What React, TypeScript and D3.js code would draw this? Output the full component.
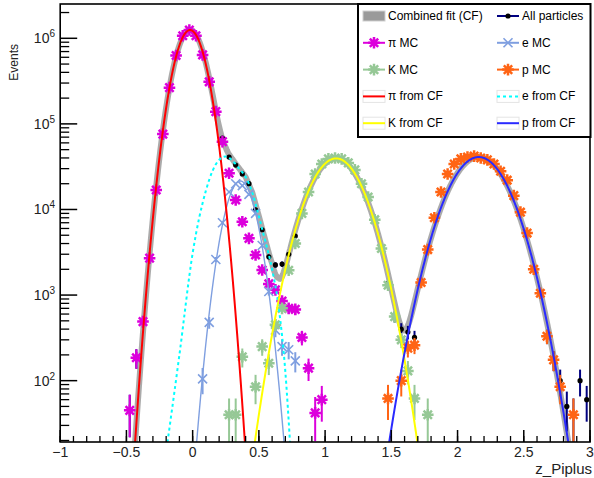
import React from 'react';
import * as d3 from 'd3';

const W = 594, H = 478;

// ---- data ----
const piX = [-0.475,-0.425,-0.375,-0.325,-0.275,-0.225,-0.175,-0.125,-0.075,-0.025,0.025,0.075,0.125,0.175,0.225,0.275,0.325,0.375,0.425,0.475,0.525,0.575,0.625,0.675,0.725,0.775,0.825,0.875,0.925,0.975];
const piY = [45,185,490,2700,16900,76000,265000,630000,1070000,1250000,1070000,640000,310000,139000,62000,26500,12900,7200,4600,2940,1960,1350,1150,850,700,680,320,140,42,60];

const eX = [0.075,0.125,0.175,0.225,0.275,0.325,0.375,0.425,0.475,0.525,0.575,0.625,0.675,0.725,0.775];
const eY = [105,480,2600,7000,16000,20000,19000,15000,9000,3800,1100,390,250,230,170];

const kX = [0.275,0.325,0.375,0.475,0.525,0.575,0.625,0.675,0.725,0.775,0.825,0.875,0.925,0.975,1.025,1.075,1.125,1.175,1.225,1.275,1.325,1.375,1.425,1.475,1.525,1.575,1.625,1.675,1.775];
const kY = [40,40,190,85,250,160,450,700,1950,4000,9000,16000,26000,34000,39000,40000,39000,35000,29000,20000,14000,7600,3500,1300,560,300,130,62,40];

const pX = [1.475,1.575,1.625,1.675,1.725,1.775,1.825,1.875,1.925,1.975,2.025,2.075,2.125,2.175,2.225,2.275,2.325,2.375,2.425,2.475,2.525,2.575,2.625,2.675,2.725,2.775,2.875];
const pY = [62,100,240,260,1400,3400,8000,16000,26000,34000,39000,41000,42000,40000,38000,34000,28000,22000,14500,9300,5300,2000,1050,330,175,85,40];

const allX = [-0.475,-0.425,-0.375,-0.325,-0.275,-0.225,-0.175,-0.125,-0.075,-0.025,0.025,0.075,0.125,0.175,0.225,0.275,0.325,0.375,0.425,0.475,0.525,0.575,0.625,0.675,0.725,0.775,0.825,0.875,0.925,0.975,1.025,1.075,1.125,1.175,1.225,1.275,1.325,1.375,1.425,1.475,1.525,1.575,1.625,1.675,1.725,1.775,1.825,1.875,1.925,1.975,2.025,2.075,2.125,2.175,2.225,2.275,2.325,2.375,2.425,2.475,2.525,2.575,2.625,2.675,2.725,2.775,2.825,2.875,2.925,2.975];
const allY = [45,185,490,2700,16900,76000,265000,630000,1070000,1250000,1070000,640000,310000,142000,68000,41000,33000,26000,20000,9900,5800,2800,2250,2300,3000,4900,9400,16000,26000,34000,39000,40000,39000,35000,29000,20000,14000,7600,3500,1360,560,400,370,320,1460,3440,8000,16000,26000,34000,39000,41000,42000,40000,38000,34000,28000,22000,14500,9300,5300,2000,1050,330,175,100,50,40,100,60];

// fit components pi, K, p: Gaussian parameters
const fitAmp = [1.25e6, 3.95e4, 4.1e4];
const fitMean = [-0.02, 1.083, 2.16];
const fitSigma = [0.088, 0.157, 0.1726];
const fitColor = ['#ff0000', '#ffff00', '#2a2aff'];
// e fit component: curve read point by point
const eFitX = [-0.19,-0.1,0,0.1,0.15,0.2,0.25,0.3,0.35,0.4,0.45,0.5,0.55,0.6,0.65,0.7,0.735];
const eFitY = [19,200,3090,16600,28200,38000,41700,37200,30200,24000,15800,8300,4170,2000,710,126,19];
// e MC line (Gaussian parameters)
const eLine = [2.15e4, 0.36, 0.088];

const xTicks = [-1, -0.5, 0, 0.5, 1, 1.5, 2, 2.5, 3];
const xTickLabels = ['\u22121', '\u22120.5', '0', '0.5', '1', '1.5', '2', '2.5', '3'];
const yExps = [2, 3, 4, 5, 6];

const legendLeft = [
  { label: 'Combined fit (CF)', kind: 'box' },
  { label: '\u03c0 MC', kind: 'star', color: '#dc00dc' },
  { label: 'K MC', kind: 'star', color: '#96c896' },
  { label: '\u03c0 from CF', kind: 'line', color: '#ff0000' },
  { label: 'K from CF', kind: 'line', color: '#ffff00' },
];
const legendRight = [
  { label: 'All particles', kind: 'dot', color: '#000080' },
  { label: 'e MC', kind: 'x', color: '#7f9fe0' },
  { label: 'p MC', kind: 'star', color: '#ff6414' },
  { label: 'e from CF', kind: 'dash', color: '#00ffff' },
  { label: 'p from CF', kind: 'line', color: '#2a2aff' },
];

const FL = 60.2, FR = 590, FT = 4, FB = 442;
const xs = d3.scaleLinear().domain([-1, 3]).range([FL, FR]);
const ys = d3.scaleLog().domain([19.2, 2.516e6]).range([FB, FT]);

const gauss = (x: number, a: number, m: number, s: number) => a * Math.exp(-0.5 * ((x - m) / s) ** 2);
const grid = d3.range(-1, 3.0001, 0.004);
const lineGen = d3.line<[number, number]>()
  .defined(d => d[1] > 1)
  .x(d => xs(d[0]))
  .y(d => ys(d[1]));
const smoothGen = d3.line<[number, number]>()
  .x(d => xs(d[0]))
  .y(d => ys(d[1]))
  .curve(d3.curveMonotoneX);

const eLogInterp = d3.scaleLinear().domain(eFitX).range(eFitY.map(v => Math.log10(v)));
const eFitAt = (x: number) => (x < eFitX[0] || x > eFitX[eFitX.length - 1]) ? 0 : 10 ** eLogInterp(x);

function starPath(r: number) {
  const d = r * 0.72;
  return `M${-r},0L${r},0M0,${-r}L0,${r}M${-d},${-d}L${d},${d}M${-d},${d}L${d},${-d}`;
}
function xPath(r: number) {
  return `M${-r},${-r}L${r},${r}M${-r},${r}L${r},${-r}`;
}

const ERRK = 12;
const STAR_R = 5.8;

function Points({ X, Y, color, kind }: { X: number[]; Y: number[]; color: string; kind: string }) {
  return (
    <g>
      {X.map((x, i) => {
        const y = Y[i];
        const e = Math.sqrt(ERRK * y);
        const lo = Math.max(y - e, 1);
        const cx = xs(x), cy = ys(y);
        return (
          <g key={i}>
            <line x1={cx} x2={cx} y1={ys(lo)} y2={ys(y + e)} stroke={kind === 'dot' ? '#000080' : color} strokeWidth={2} />
            {kind === 'star' && (
              <g transform={`translate(${cx},${cy})`}>
                <path d={starPath(STAR_R)} stroke={color} strokeWidth={2.5} fill="none" />
                <circle r={2.6} fill={color} />
              </g>
            )}
            {kind === 'x' && (
              <path transform={`translate(${cx},${cy})`} d={xPath(4.5)} stroke={color} strokeWidth={1.6} fill="none" />
            )}
            {kind === 'dot' && <circle cx={cx} cy={cy} r={2.6} fill="#000" />}
          </g>
        );
      })}
    </g>
  );
}

export default function App() {
  const comps = fitAmp.map((a, i) => grid.map(x => [x, gauss(x, a, fitMean[i], fitSigma[i])] as [number, number]));
  const combined = grid.map((x, j) => [x, comps.reduce((s, c) => s + c[j][1], 0) + eFitAt(x)] as [number, number]);
  const eMcLine = grid.map(x => [x, gauss(x, eLine[0], eLine[1], eLine[2])] as [number, number]);
  const eFitPts = eFitX.map((x, i) => [x, eFitY[i]] as [number, number]);

  const yMinor: number[] = [];
  for (let d = 1; d <= 6; d++) for (let k = 2; k <= 9; k++) {
    const v = k * 10 ** d;
    if (v >= 19.2 && v <= 2.516e6) yMinor.push(v);
  }
  const xMinor = d3.range(-1, 3.0001, 0.1);

  const font = 'Liberation Sans, Arial, Helvetica, sans-serif';
  const rowY = (i: number) => 16 + i * 26.8;

  const legendSymbol = (it: any, cx: number, cy: number) => {
    switch (it.kind) {
      case 'box':
        return <rect x={cx - 11} y={cy - 5} width={22} height={10} fill="#9a9a9a" stroke="#cfcfcf" />;
      case 'dot':
        return <g><line x1={cx - 11} x2={cx + 11} y1={cy} y2={cy} stroke={it.color} strokeWidth={2} /><circle cx={cx} cy={cy} r={2.6} fill="#000" /></g>;
      case 'star':
        return <g><line x1={cx - 11} x2={cx + 11} y1={cy} y2={cy} stroke={it.color} strokeWidth={2} /><g transform={`translate(${cx},${cy})`}><path d={starPath(STAR_R)} stroke={it.color} strokeWidth={2.5} /><circle r={2.6} fill={it.color} /></g></g>;
      case 'x':
        return <g><line x1={cx - 11} x2={cx + 11} y1={cy} y2={cy} stroke={it.color} strokeWidth={2} /><path transform={`translate(${cx},${cy})`} d={xPath(4.5)} stroke={it.color} strokeWidth={1.6} /></g>;
      case 'line':
        return <g><rect x={cx - 11} y={cy - 6} width={22} height={12} fill="none" stroke="#e4e4e4" /><line x1={cx - 11} x2={cx + 11} y1={cy} y2={cy} stroke={it.color} strokeWidth={2} /></g>;
      case 'dash':
        return <g><rect x={cx - 11} y={cy - 6} width={22} height={12} fill="none" stroke="#e4e4e4" /><line x1={cx - 11} x2={cx + 11} y1={cy} y2={cy} stroke={it.color} strokeWidth={2} strokeDasharray="3,3" /></g>;
    }
    return null;
  };

  return (
    <svg width={W} height={H} style={{ position: 'absolute', left: 0, top: 0, background: '#fff' }} fontFamily={font}>
      <rect width={W} height={H} fill="#fff" />
      <defs>
        <clipPath id="frame"><rect x={FL} y={FT} width={FR - FL} height={FB - FT} /></clipPath>
      </defs>
      <g clipPath="url(#frame)">
        <path d={lineGen(combined) || ''} fill="none" stroke="#9c9c9c" strokeWidth={6} strokeOpacity={0.85} />
        <Points X={allX} Y={allY} color="#000" kind="dot" />
        <Points X={piX} Y={piY} color="#dc00dc" kind="star" />
        <path d={lineGen(eMcLine) || ''} fill="none" stroke="#7f9fe0" strokeWidth={1.4} />
        <Points X={eX} Y={eY} color="#7f9fe0" kind="x" />
        <Points X={kX} Y={kY} color="#96c896" kind="star" />
        <Points X={pX} Y={pY} color="#ff6414" kind="star" />
        <path d={lineGen(comps[0]) || ''} fill="none" stroke={fitColor[0]} strokeWidth={2} />
        <path d={smoothGen(eFitPts) || ''} fill="none" stroke="#00ffff" strokeWidth={2} strokeDasharray="3,3" />
        <path d={lineGen(comps[1]) || ''} fill="none" stroke={fitColor[1]} strokeWidth={2} />
        <path d={lineGen(comps[2]) || ''} fill="none" stroke={fitColor[2]} strokeWidth={2} />
      </g>
      {/* frame */}
      <rect x={FL} y={FT} width={FR - FL} height={FB - FT} fill="none" stroke="#000" strokeWidth={1.6} />
      {/* y ticks */}
      {yExps.map(e => (
        <g key={e}>
          <line x1={FL} x2={FL + 17} y1={ys(10 ** e)} y2={ys(10 ** e)} stroke="#000" strokeWidth={1.5} />
          <text x={55} y={ys(10 ** e) + 5} textAnchor="end" fontSize={14} fill="#222">10<tspan dy={-6} fontSize={10}>{e}</tspan></text>
        </g>
      ))}
      {yMinor.map((v, i) => (
        <line key={i} x1={FL} x2={FL + 9} y1={ys(v)} y2={ys(v)} stroke="#000" strokeWidth={1.3} />
      ))}
      {/* x ticks */}
      {xMinor.map((v, i) => (
        <line key={i} x1={xs(v)} x2={xs(v)} y1={FB} y2={FB - 6} stroke="#000" strokeWidth={1.3} />
      ))}
      {xTicks.map((v, i) => (
        <g key={i}>
          <line x1={xs(v)} x2={xs(v)} y1={FB} y2={FB - 12} stroke="#000" strokeWidth={1.5} />
          <text x={xs(v)} y={457} textAnchor="middle" fontSize={14} fill="#222">{xTickLabels[i]}</text>
        </g>
      ))}
      <text x={592} y={474} textAnchor="end" fontSize={15} fill="#222">z_Piplus</text>
      <text transform="translate(18,44) rotate(-90)" textAnchor="end" fontSize={12} fill="#222">Events</text>
      {/* legend */}
      <rect x={358} y={FT} width={232.5} height={133} fill="#fff" stroke="#000" strokeWidth={2} />
      {legendLeft.map((it, i) => (
        <g key={'l' + i}>
          {legendSymbol(it, 374, rowY(i))}
          <text x={388} y={rowY(i) + 4} fontSize={12} fill="#000">{it.label}</text>
        </g>
      ))}
      {legendRight.map((it, i) => (
        <g key={'r' + i}>
          {legendSymbol(it, 508, rowY(i))}
          <text x={522} y={rowY(i) + 4} fontSize={12} fill="#000">{it.label}</text>
        </g>
      ))}
    </svg>
  );
}
